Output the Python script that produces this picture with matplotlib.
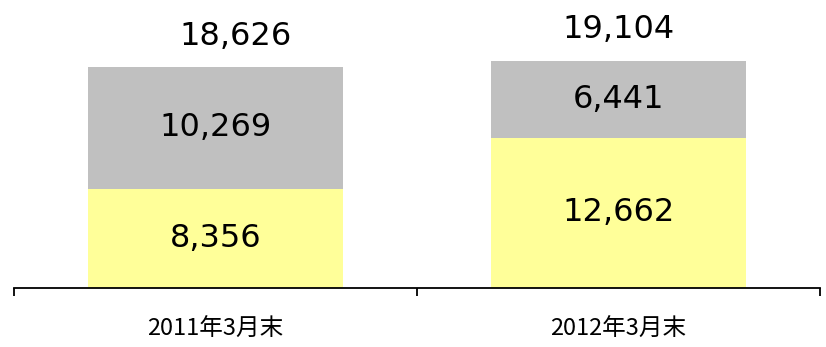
import numpy as np
import matplotlib
matplotlib.use("Agg")
import matplotlib.pyplot as plt

plt.rcParams['font.family'] = ['DejaVu Sans', 'Noto Sans CJK JP']

categories = ["2011年3月末", "2012年3月末"]
bottom_vals = [8356, 12662]
top_vals = [10269, 6441]
totals = [18626, 19104]

x = np.arange(len(categories))

fig = plt.figure(figsize=(8.26, 3.47), dpi=100)
ax = fig.add_axes([14 / 826, 1 - 288 / 347, 806 / 826, 288 / 347])

ax.bar(x, bottom_vals, width=0.634, color="#FFFF99", edgecolor="none")
ax.bar(x, top_vals, width=0.634, bottom=bottom_vals, color="#C0C0C0", edgecolor="none")

for i in range(len(x)):
    ax.text(x[i], bottom_vals[i] / 2, f"{bottom_vals[i]:,}", ha="center", va="center",
            fontsize=23, color="black")
    ax.text(x[i], bottom_vals[i] + top_vals[i] / 2, f"{top_vals[i]:,}", ha="center", va="center",
            fontsize=23, color="black")

# totals above the bars
ax.annotate(f"{totals[0]:,}", (x[0] + 0.05, totals[0]), xytext=(0, 22), textcoords="offset points",
            ha="center", va="center", fontsize=23)
ax.annotate(f"{totals[1]:,}", (x[1], totals[1]), xytext=(0, 23), textcoords="offset points",
            ha="center", va="center", fontsize=23)

ax.set_xlim(-0.5, 1.5)
ax.set_ylim(0, 24260)
for s in ["top", "right", "left"]:
    ax.spines[s].set_visible(False)
ax.spines["bottom"].set_linewidth(1.3)
ax.set_yticks([])
ax.set_xticks([-0.5, 0.5, 1.5])
ax.set_xticklabels([])
ax.tick_params(axis="x", direction="out", length=6, width=1.3)

for i in range(len(x)):
    ax.annotate(categories[i], (x[i], 0), xytext=(0, -30), textcoords="offset points",
                ha="center", va="center", fontsize=17, annotation_clip=False,
                family=['Noto Sans CJK JP', 'DejaVu Sans'])

fig.savefig("out.png", dpi=100)
